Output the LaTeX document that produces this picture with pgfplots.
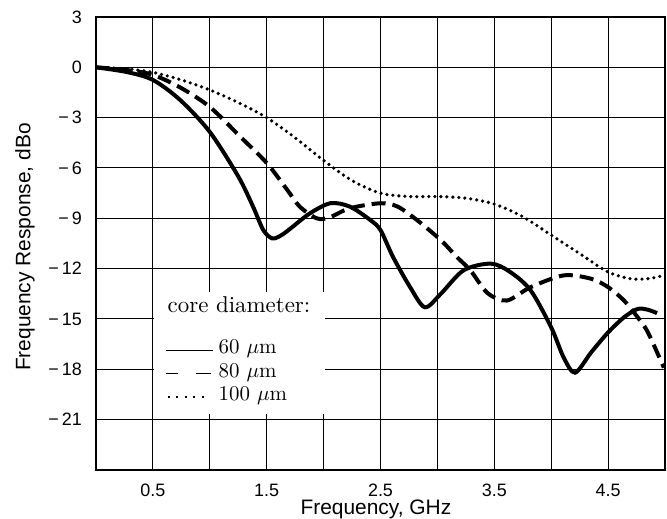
\documentclass[border=0pt]{standalone}
\usepackage{graphicx}
\usepackage{pgfplots}
\pgfplotsset{compat=1.18}
\usepackage{fontspec}
\newfontfamily\sflabel{Liberation Sans}
\newcommand\lsolid{\rule[3bp]{47bp}{1.2bp}\hspace*{6bp}}
\newcommand\ldash{\rule[3bp]{12bp}{1.2bp}\hspace*{18bp}\rule[3bp]{15bp}{1.2bp}\hspace*{8bp}}
\newcommand\ldotm{\rule[2.6bp]{1.9bp}{1.9bp}\hspace*{6.6bp}}
\newcommand\ldot{\hspace*{2bp}\ldotm\ldotm\ldotm\ldotm\ldotm\hspace*{8.5bp}}
\newcommand\lt[1]{\scalebox{2.1}{#1}}
\begin{document}
\begin{tikzpicture}
\path[use as bounding box] (-96bp,-49bp) rectangle (571bp,470bp);
\begin{axis}[
  scale only axis, width=569bp, height=453bp,
  xmin=0, xmax=5, ymin=-24, ymax=3,
  xtick={0.5,1,1.5,2,2.5,3,3.5,4,4.5},
  xticklabels={0.5,,1.5,,2.5,,3.5,,4.5},
  ytick={-21,-18,-15,-12,-9,-6,-3,0,3},
  yticklabels={−\,21,−\,18,−\,15,−\,12,−\,9,−\,6,−\,3,0,3},
  grid=major, major grid style={black, line width=1bp},
  major tick length=0pt,
  axis line style={line width=2.6bp},
  tick label style={font=\sflabel\fontsize{18}{18}\selectfont, inner sep=0pt},
  xticklabel style={anchor=center, yshift=-20bp},
  yticklabel style={anchor=east, xshift=-14bp},
  label style={font=\sflabel\fontsize{21}{21}\selectfont},
  xlabel={Frequency, GHz},
  ylabel={Frequency Response, dBo},
  xlabel style={at={(axis description cs:0.492,-0.088)}, anchor=center},
  ylabel style={at={(axis description cs:-0.125,0.492)}, anchor=center},
]
\addplot[black, line width=4bp, smooth] coordinates {
(0,0) (0.27,-0.28) (0.5,-0.75) (0.74,-1.95) (1.0,-3.85) (1.25,-6.5) (1.38,-8.3)
(1.47,-9.7) (1.55,-10.2) (1.63,-10.0) (1.71,-9.6) (1.88,-8.7) (2.06,-8.1)
(2.23,-8.3) (2.41,-9.1) (2.5,-9.7) (2.61,-11.3) (2.76,-13.1) (2.89,-14.3)
(3.03,-13.5) (3.23,-12.1) (3.47,-11.7) (3.64,-12.2) (3.82,-13.3) (4.0,-15.5)
(4.11,-17.3) (4.21,-18.2) (4.35,-17.0) (4.5,-15.8) (4.64,-14.9) (4.76,-14.4)
(4.85,-14.45) (4.93,-14.65)};
\addplot[black, line width=4bp, dash pattern=on 14bp off 7bp, smooth] coordinates {
(0,0) (0.27,-0.16) (0.5,-0.45) (0.74,-1.2) (1.0,-2.36) (1.27,-4.15) (1.5,-5.7)
(1.68,-7.3) (1.79,-8.3) (1.94,-9.0) (2.05,-8.95) (2.23,-8.4) (2.5,-8.1)
(2.65,-8.3) (2.82,-9.1) (3.03,-10.3) (3.17,-11.3) (3.29,-12.1) (3.44,-13.45)
(3.61,-13.9) (3.82,-13.1) (4.11,-12.4) (4.35,-12.6) (4.5,-13.1) (4.64,-13.9)
(4.76,-14.9) (4.85,-15.8) (4.99,-17.9)};
\addplot[black, line width=3.6bp, line cap=round, dash pattern=on 0bp off 6bp, smooth] coordinates {
(0,0) (0.25,-0.08) (0.5,-0.3) (0.75,-0.75) (1.0,-1.35) (1.25,-2.1) (1.5,-3.0)
(1.75,-4.2) (2.0,-5.55) (2.25,-6.75) (2.5,-7.5) (2.75,-7.7) (3.0,-7.7)
(3.25,-7.8) (3.5,-8.15) (3.75,-8.9) (4.0,-10.0) (4.25,-11.1) (4.5,-12.2)
(4.7,-12.6) (4.85,-12.6) (4.99,-12.4)};
\node[fill=white, anchor=north west, align=left, inner xsep=12bp, inner ysep=5bp,
  font=\fontsize{10}{23.5}\selectfont] at (axis cs:0.505,-13.35)
  {\hspace*{2bp}\scalebox{2.3}{core diameter:}\hspace*{3bp}\\[18bp]\lsolid\lt{60 $\mu$m}\\\ldash\lt{80 $\mu$m}\\\ldot\lt{100 $\mu$m}\rule[-8bp]{0pt}{0pt}};
\end{axis}
\end{tikzpicture}
\end{document}
